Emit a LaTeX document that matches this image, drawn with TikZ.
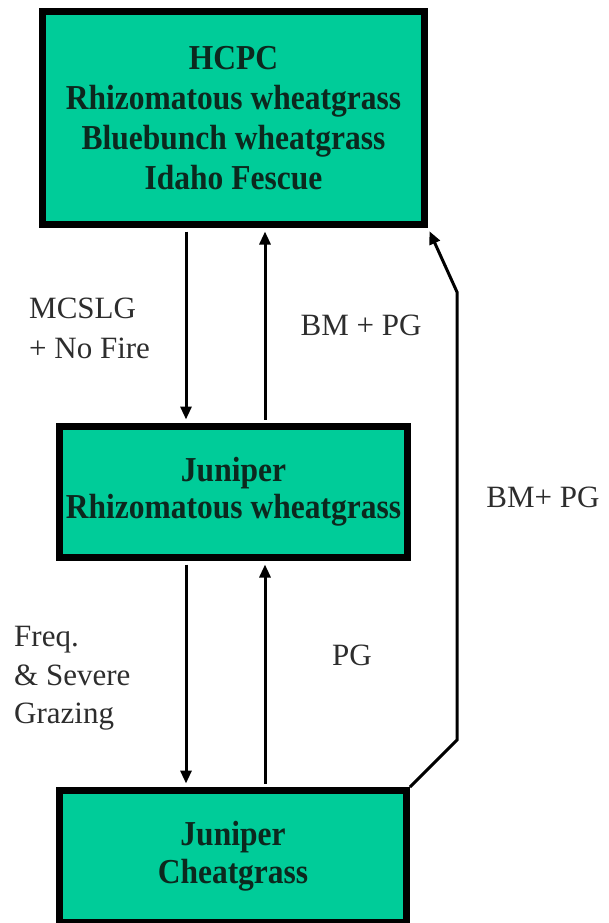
\documentclass[tikz,border=0pt]{standalone}
\usepackage{fontspec}
\setmainfont{Liberation Serif}
\newfontfamily\boxfont{Liberation Serif}[FakeStretch=0.9]
\usetikzlibrary{arrows.meta}
\definecolor{boxgreen}{RGB}{0,204,153}
\definecolor{boxtext}{RGB}{12,40,30}
\definecolor{labtext}{RGB}{45,45,45}
\tikzset{
  statebox/.style={draw=black, line width=7pt, fill=boxgreen, text=boxtext,
    align=center, inner sep=0pt, font=\boxfont\bfseries\fontsize{35}{40}\selectfont},
  trans/.style={line width=3pt, -{Triangle[length=13pt,width=11pt]},
    shorten >=3.5pt, shorten <=3.5pt},
  lab/.style={text=labtext, font=\fontsize{31}{40}\selectfont, inner sep=0pt}
}
\begin{document}
\begin{tikzpicture}[x=1pt,y=-1pt]
\useasboundingbox (0,0) rectangle (608,923);
\node[statebox, minimum width=382pt, minimum height=213pt] (hcpc) at (233.5,118)
  {HCPC\\Rhizomatous wheatgrass\\Bluebunch wheatgrass\\Idaho Fescue};
\node[statebox, minimum width=348pt, minimum height=131pt,
  font=\boxfont\bfseries\fontsize{35}{37}\selectfont] (jrw) at (233.5,492)
  {Juniper\\Rhizomatous wheatgrass};
\node[statebox, minimum width=347pt, minimum height=132pt,
  font=\boxfont\bfseries\fontsize{35}{38}\selectfont] (jcg) at (233,856.5)
  {Juniper\\Cheatgrass};
\coordinate (xa) at (186,0);
\coordinate (xb) at (265,0);
\coordinate (r1) at (457,740);
\coordinate (r2) at (457,292);
\draw[trans] (hcpc.south -| xa) -- (jrw.north -| xa);
\draw[trans] (jrw.north -| xb) -- (hcpc.south -| xb);
\draw[trans] (jrw.south -| xa) -- (jcg.north -| xa);
\draw[trans] (jcg.north -| xb) -- (jrw.south -| xb);
\draw[trans, shorten <=0pt] (jcg.north east) -- (r1) -- (r2) -- (hcpc.south east);
\node[lab, align=left, anchor=west] (l1) at (29,328) {MCSLG\\+ No Fire};
\node[lab] (l2) at (361,325) {BM + PG};
\node[lab] (l3) at (543,497) {BM+ PG};
\node[lab, align=left, anchor=west, font=\fontsize{31}{38.5}\selectfont] (l4) at (14,678.5) {Freq.\\\& Severe\\Grazing};
\node[lab] (l5) at (352,655) {PG};
\end{tikzpicture}
\end{document}
